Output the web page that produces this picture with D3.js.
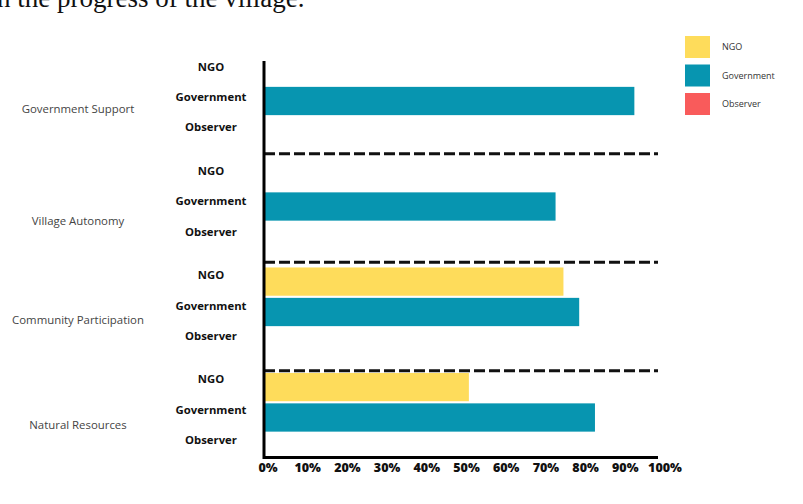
<!DOCTYPE html>
<html>
<head>
<meta charset="utf-8">
<script src="https://cdn.jsdelivr.net/npm/d3@7"></script>
<style>
  body { margin: 0; background: #fff; }
  svg { display: block; font-family: "Open Sans", sans-serif; }
</style>
</head>
<body>
<svg id="chart" width="803" height="504"></svg>
<script>
// chart data
const categories = ['Government Support', 'Village Autonomy', 'Community Participation', 'Natural Resources'];
const series = ['NGO', 'Government', 'Observer'];
const colors = ['#fedc5b', '#0795b0', '#f95b5b'];
const ngo = [0, 0, 76, 52];
const government = [94, 74, 80, 84];
const observer = [0, 0, 0, 0];
const xTicks = [0, 10, 20, 30, 40, 50, 60, 70, 80, 90, 100];

const values = [ngo, government, observer];

const svg = d3.select('#chart');

// caption text cut off at the top of the picture
svg.append('text')
  .attr('x', -3)
  .attr('y', 7)
  .attr('font-family', '"Liberation Serif", "Times New Roman", serif')
  .attr('font-size', 27)
  .attr('fill', '#111')
  .text('n the progress of the village.');

const x = d3.scaleLinear().domain([0, 100]).range([264, 658]);

const y0 = d3.scaleBand()
  .domain(categories)
  .range([48.25, 470.25]);

const y1 = d3.scaleBand()
  .domain(series)
  .range([0, y0.bandwidth()])
  .paddingInner(0.07)
  .paddingOuter(0.27);

const group = svg.selectAll('g.cat')
  .data(categories)
  .enter()
  .append('g')
  .attr('class', 'cat')
  .attr('transform', (d) => `translate(0, ${y0(d)})`);

// bars
group.selectAll('rect')
  .data((d, i) => series.map((s, j) => ({ s: s, v: values[j][i], c: colors[j] })))
  .enter()
  .filter((d) => d.v > 0)
  .append('rect')
  .attr('x', x(0))
  .attr('y', (d) => y1(d.s))
  .attr('width', (d) => x(d.v) - x(0))
  .attr('height', y1.bandwidth())
  .attr('fill', (d) => d.c);

// series labels
group.selectAll('text.series')
  .data((d, i) => series.map((s) => ({ s: s, i: i })))
  .enter()
  .append('text')
  .attr('class', 'series')
  .attr('x', 211)
  .attr('y', (d) => y1(d.s) + y1.bandwidth() / 2 - 4 - d.i * 1.2)
  .attr('dy', '0.35em')
  .attr('text-anchor', 'middle')
  .attr('font-size', 11.3)
  .attr('font-weight', 700)
  .attr('fill', '#111')
  .text((d) => d.s);

// category labels
group.append('text')
  .attr('x', 78)
  .attr('y', (d, i) => y1('Government') + y1.bandwidth() / 2 + (i === 1 ? 15 : 8))
  .attr('dy', '0.35em')
  .attr('text-anchor', 'middle')
  .attr('font-size', 11.4)
  .attr('fill', '#444')
  .text((d) => d);

// dashed separators
svg.selectAll('line.sep')
  .data(categories.slice(1))
  .enter()
  .append('line')
  .attr('class', 'sep')
  .attr('x1', x(0))
  .attr('x2', x(100))
  .attr('y1', (d, i) => y0(d) + i * 3)
  .attr('y2', (d, i) => y0(d) + i * 3)
  .attr('stroke', '#111')
  .attr('stroke-width', 3)
  .attr('stroke-dasharray', '11,4');

// axes lines
svg.append('path')
  .attr('d', `M${x(0)},61 V${457.5} H${x(100)}`)
  .attr('fill', 'none')
  .attr('stroke', '#000')
  .attr('stroke-width', 3);

// x tick labels
svg.selectAll('text.tick')
  .data(xTicks)
  .enter()
  .append('text')
  .attr('class', 'tick')
  .attr('x', (d) => x(d) + 4 + d * 0.03)
  .attr('y', 468)
  .attr('dy', '0.35em')
  .attr('text-anchor', 'middle')
  .attr('font-size', 12.5)
  .attr('font-weight', 800)
  .attr('fill', '#111')
  .text((d) => d + '%');

// legend
const legend = svg.selectAll('g.legend')
  .data(series)
  .enter()
  .append('g')
  .attr('class', 'legend')
  .attr('transform', (d, i) => `translate(685, ${36 + i * 28.5})`);

legend.append('rect')
  .attr('width', 25)
  .attr('height', 22)
  .attr('fill', (d, i) => colors[i]);

legend.append('text')
  .attr('x', 37)
  .attr('y', 11)
  .attr('dy', '0.35em')
  .attr('font-size', 9)
  .attr('fill', '#333')
  .text((d) => d);
</script>
</body>
</html>
